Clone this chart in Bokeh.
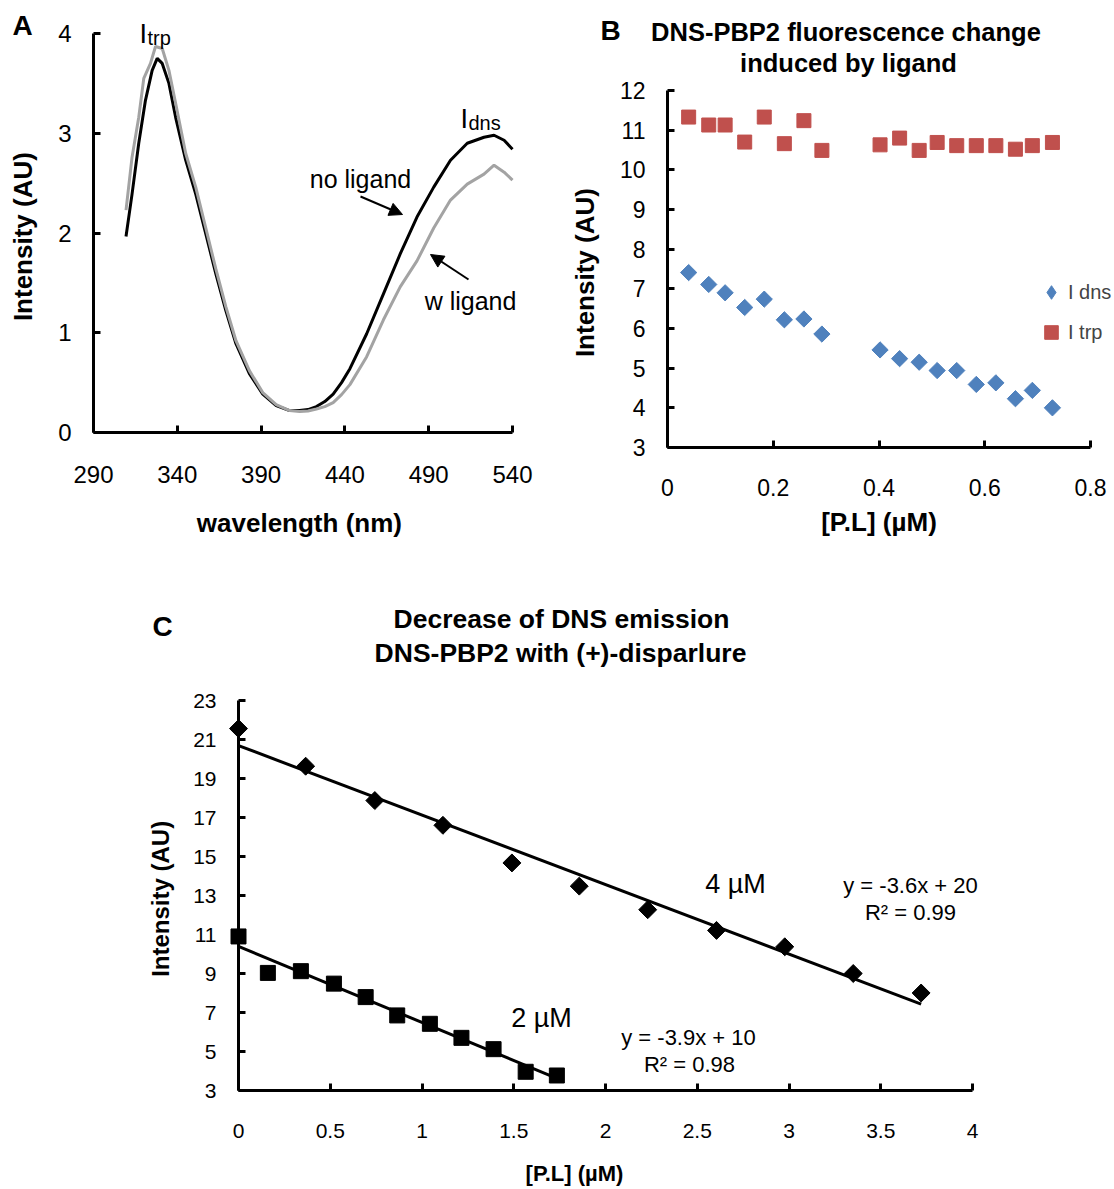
import numpy as np
from bokeh.plotting import figure
from bokeh.models import (Range1d, FixedTicker, Label, Arrow, NormalHead, Legend,
                          LegendItem, ColumnDataSource)
from bokeh.layouts import column, row
from bokeh.embed import file_html
from bokeh.resources import INLINE

FONT = "Liberation Sans"

# ---------------- Panel A data: emission spectra ----------------
wl_no_lig = [309.4, 313, 317, 321, 325, 328, 331, 335, 339, 345, 351, 357, 363, 369, 375,
             383, 391, 399, 407, 413, 418, 423, 428, 433, 438, 443, 453, 463, 473, 483,
             493, 503, 513, 523, 529, 535, 540]
int_no_lig = [1.965, 2.39, 2.90, 3.33, 3.63, 3.75, 3.70, 3.50, 3.16, 2.73, 2.39, 1.99, 1.59,
              1.22, 0.89, 0.59, 0.385, 0.27, 0.22, 0.22, 0.23, 0.26, 0.31, 0.385, 0.50, 0.64,
              0.99, 1.39, 1.79, 2.16, 2.46, 2.73, 2.90, 2.96, 2.98, 2.93, 2.84]
wl_w_lig = [309.4, 313, 317, 320, 324, 327, 331, 335, 339, 345, 351, 357, 363, 369, 375,
            383, 391, 399, 407, 413, 418, 423, 428, 433, 438, 443, 453, 463, 473, 483,
            493, 503, 513, 523, 529, 535, 540]
int_w_lig = [2.23, 2.76, 3.16, 3.55, 3.70, 3.87, 3.85, 3.63, 3.30, 2.80, 2.46, 2.05, 1.64,
             1.26, 0.92, 0.62, 0.40, 0.28, 0.22, 0.21, 0.215, 0.235, 0.26, 0.30, 0.38, 0.48,
             0.76, 1.13, 1.46, 1.72, 2.05, 2.33, 2.49, 2.59, 2.68, 2.61, 2.53]
a_xticks = [290, 340, 390, 440, 490, 540]
a_yticks = [0, 1, 2, 3, 4]

# ---------------- Panel B data ----------------
conc_b = [0.040, 0.078, 0.109, 0.146, 0.183, 0.221, 0.258, 0.292, 0.402, 0.439, 0.476,
          0.510, 0.547, 0.584, 0.621, 0.658, 0.690, 0.728]
i_dns = [7.41, 7.11, 6.90, 6.53, 6.74, 6.22, 6.24, 5.86, 5.46, 5.24, 5.15, 4.94, 4.94,
         4.59, 4.63, 4.23, 4.44, 4.00]
i_trp = [11.33, 11.13, 11.13, 10.70, 11.33, 10.66, 11.24, 10.49, 10.63, 10.80, 10.49,
         10.69, 10.61, 10.61, 10.61, 10.52, 10.61, 10.69]
b_xticks = [0, 0.2, 0.4, 0.6, 0.8]
b_yticks = [3, 4, 5, 6, 7, 8, 9, 10, 11, 12]

# ---------------- Panel C data ----------------
conc_4uM = [0, 0.366, 0.743, 1.114, 1.49, 1.857, 2.23, 2.605, 2.977, 3.35, 3.72]
int_4uM = [21.56, 19.63, 17.87, 16.6, 14.67, 13.48, 12.27, 11.21, 10.37, 9.0, 8.0]
conc_2uM = [0, 0.16, 0.34, 0.52, 0.693, 0.865, 1.043, 1.215, 1.39, 1.565, 1.735]
int_2uM = [10.9, 9.03, 9.12, 8.48, 7.79, 6.85, 6.42, 5.7, 5.12, 3.96, 3.77]
c_xticks = [0, 0.5, 1, 1.5, 2, 2.5, 3, 3.5, 4]
c_yticks = [3, 5, 7, 9, 11, 13, 15, 17, 19, 21, 23]


def panel(W, H, xlim, xpx, ylim, ypx):
    """Figure whose frame fills the whole figure; the data box (xlim, ylim) is
    mapped to pixel box xpx=(left,right), ypx=(bottom,top) measured from top-left."""
    kx = (xpx[1] - xpx[0]) / (xlim[1] - xlim[0])
    ky = (ypx[0] - ypx[1]) / (ylim[1] - ylim[0])
    xr = Range1d(xlim[0] - xpx[0] / kx, xlim[1] + (W - xpx[1]) / kx)
    yr = Range1d(ylim[0] - (H - ypx[0]) / ky, ylim[1] + ypx[1] / ky)
    p = figure(width=W, height=H, x_range=xr, y_range=yr, output_backend="svg",
               toolbar_location=None, min_border=0, min_border_left=0,
               min_border_right=0, min_border_top=0, min_border_bottom=0)
    p.grid.visible = False
    p.outline_line_color = None
    p.background_fill_color = "white"
    p.border_fill_color = "white"
    p.xaxis.fixed_location = ylim[0]
    p.yaxis.fixed_location = xlim[0]
    p.xaxis.bounds = tuple(xlim)
    p.yaxis.bounds = tuple(ylim)
    return p


def style(p, ticks_x, ticks_y, tick_size, lab_size, xstand, ystand, xlstand, ylstand):
    p.xaxis.ticker = FixedTicker(ticks=ticks_x)
    p.yaxis.ticker = FixedTicker(ticks=ticks_y)
    p.xaxis.major_label_overrides = {t: f"{t:g}" for t in ticks_x}
    p.yaxis.major_label_overrides = {t: f"{t:g}" for t in ticks_y}
    p.xaxis.major_label_standoff = xstand
    p.yaxis.major_label_standoff = ystand
    p.xaxis.axis_label_standoff = xlstand
    p.yaxis.axis_label_standoff = ylstand
    for ax in p.axis:
        ax.axis_line_width = 3
        ax.axis_line_color = "black"
        ax.major_tick_in = 7
        ax.major_tick_out = 0
        ax.major_tick_line_width = 3
        ax.major_tick_line_color = "black"
        ax.minor_tick_line_color = None
        ax.major_label_text_font = FONT
        ax.major_label_text_font_size = tick_size
        ax.major_label_text_color = "black"
        ax.axis_label_text_font = FONT
        ax.axis_label_text_font_style = "bold"
        ax.axis_label_text_font_size = lab_size
        ax.axis_label_text_color = "black"


def lab(p, cx, cy, text, size, bold=False, align="center", baseline="middle"):
    H = p.height
    p.add_layout(Label(x=cx, y=H - cy, x_units="screen", y_units="screen", text=text,
                       text_font=FONT, text_font_size=f"{size}px",
                       text_font_style="bold" if bold else "normal",
                       text_align=align, text_baseline=baseline, text_color="black"))


def arrow(p, x0, y0, x1, y1):
    H = p.height
    p.add_layout(Arrow(end=NormalHead(size=13, fill_color="black", line_color="black"),
                       x_start=x0, y_start=H - y0, x_end=x1, y_end=H - y1,
                       start_units="screen", end_units="screen",
                       line_width=2, line_color="black"))


# ================= Panel A =================
pA = panel(557, 560, (290, 540), (93, 512), (0, 4), (432, 33))
pA.xaxis.axis_label = "wavelength  (nm)"
pA.yaxis.axis_label = "Intensity  (AU)"
style(pA, a_xticks, a_yticks, "24px", "26px", 33, 22, 22, 17)
pA.line(wl_no_lig, int_no_lig, line_width=3, line_color="black")
pA.line(wl_w_lig, int_w_lig, line_width=3, line_color="#a3a3a3")
lab(pA, 22, 25, "A", 28, bold=True)
lab(pA, 139, 33, "I", 27, align="left", baseline="alphabetic")
lab(pA, 147, 37, "trp", 20, align="left", baseline="alphabetic")
lab(pA, 460, 118, "I", 27, align="left", baseline="alphabetic")
lab(pA, 468, 122, "dns", 20, align="left", baseline="alphabetic")
lab(pA, 360, 178, "no ligand", 25)
lab(pA, 470, 300, "w ligand", 25)
arrow(pA, 360, 196, 402, 214)
arrow(pA, 468, 279, 430, 254)

# ================= Panel B =================
pB = panel(557, 560, (0, 0.8), (110, 533), (3, 12), (447, 90))
pB.xaxis.axis_label = "[P.L] (µM)"
pB.yaxis.axis_label = "Intensity  (AU)"
style(pB, b_xticks, b_yticks, "23px", "26px", 31, 22, 8, 17)
src_b = ColumnDataSource(dict(x=conc_b, dns=i_dns, trp=i_trp))
r_dns = pB.scatter("x", "dns", source=src_b, marker="square", angle=np.pi / 4, size=11.5,
                   fill_color="#4F81BD", line_color="#4F81BD")
r_trp = pB.scatter("x", "trp", source=src_b, marker="square", size=14,
                   fill_color="#C0504D", line_color="#C0504D")
# diamond-shaped key for the legend (not drawn in the plot itself)
r_dns_key = pB.scatter("x", "dns", source=src_b, marker="diamond", size=16,
                       fill_color="#4F81BD", line_color="#4F81BD", visible=False)
leg = Legend(items=[LegendItem(label="I dns", renderers=[r_dns_key]),
                    LegendItem(label="I trp", renderers=[r_trp])],
             location=(477, 211), border_line_color=None, background_fill_alpha=0,
             padding=0, margin=0, spacing=6, glyph_width=34, glyph_height=34,
             label_standoff=0, label_text_font=FONT, label_text_font_size="20px",
             label_height=34, inactive_fill_alpha=0)
pB.add_layout(leg)
lab(pB, 53, 30, "B", 28, bold=True)
lab(pB, 292, 31, "DNS-PBP2 fluorescence  change", 25.5, bold=True)
lab(pB, 291, 62, "induced by ligand", 25.5, bold=True)

# ================= Panel C =================
pC = panel(1114, 629, (0, 4), (238, 972), (3, 23), (530, 140))
pC.yaxis.axis_label = "Intensity  (AU)"
style(pC, c_xticks, c_yticks, "21px", "24px", 33, 22, 15, 16)

for xs, ys, mk, sz, ang in [(conc_4uM, int_4uM, "square", 12.7, np.pi / 4),
                            (conc_2uM, int_2uM, "square", 15, 0)]:
    slope, icpt = np.polyfit(xs, ys, 1)
    fx = [0, xs[-1]]
    pC.line(fx, [icpt + slope * v for v in fx], line_width=3, line_color="black")
    pC.scatter(xs, ys, marker=mk, size=sz, angle=ang, fill_color="black", line_color="black")

lab(pC, 162, 66, "C", 28, bold=True)
lab(pC, 561, 58, "Decrease of DNS emission", 26.5, bold=True)
lab(pC, 560, 92, "DNS-PBP2 with (+)-disparlure", 26.5, bold=True)
lab(pC, 574, 613, "[P.L] (µM)", 22, bold=True)
lab(pC, 735, 323, "4 µM", 27)
lab(pC, 910, 325, "y = -3.6x + 20", 22)
lab(pC, 910, 352, "R² = 0.99", 22)
lab(pC, 541, 457, "2 µM", 27)
lab(pC, 688, 477, "y = -3.9x + 10", 22)
lab(pC, 689, 504, "R² = 0.98", 22)

layout = column(row(pA, pB), pC)
open("out.html", "w").write(file_html(layout, INLINE, title="DNS-PBP2 fluorescence"))
